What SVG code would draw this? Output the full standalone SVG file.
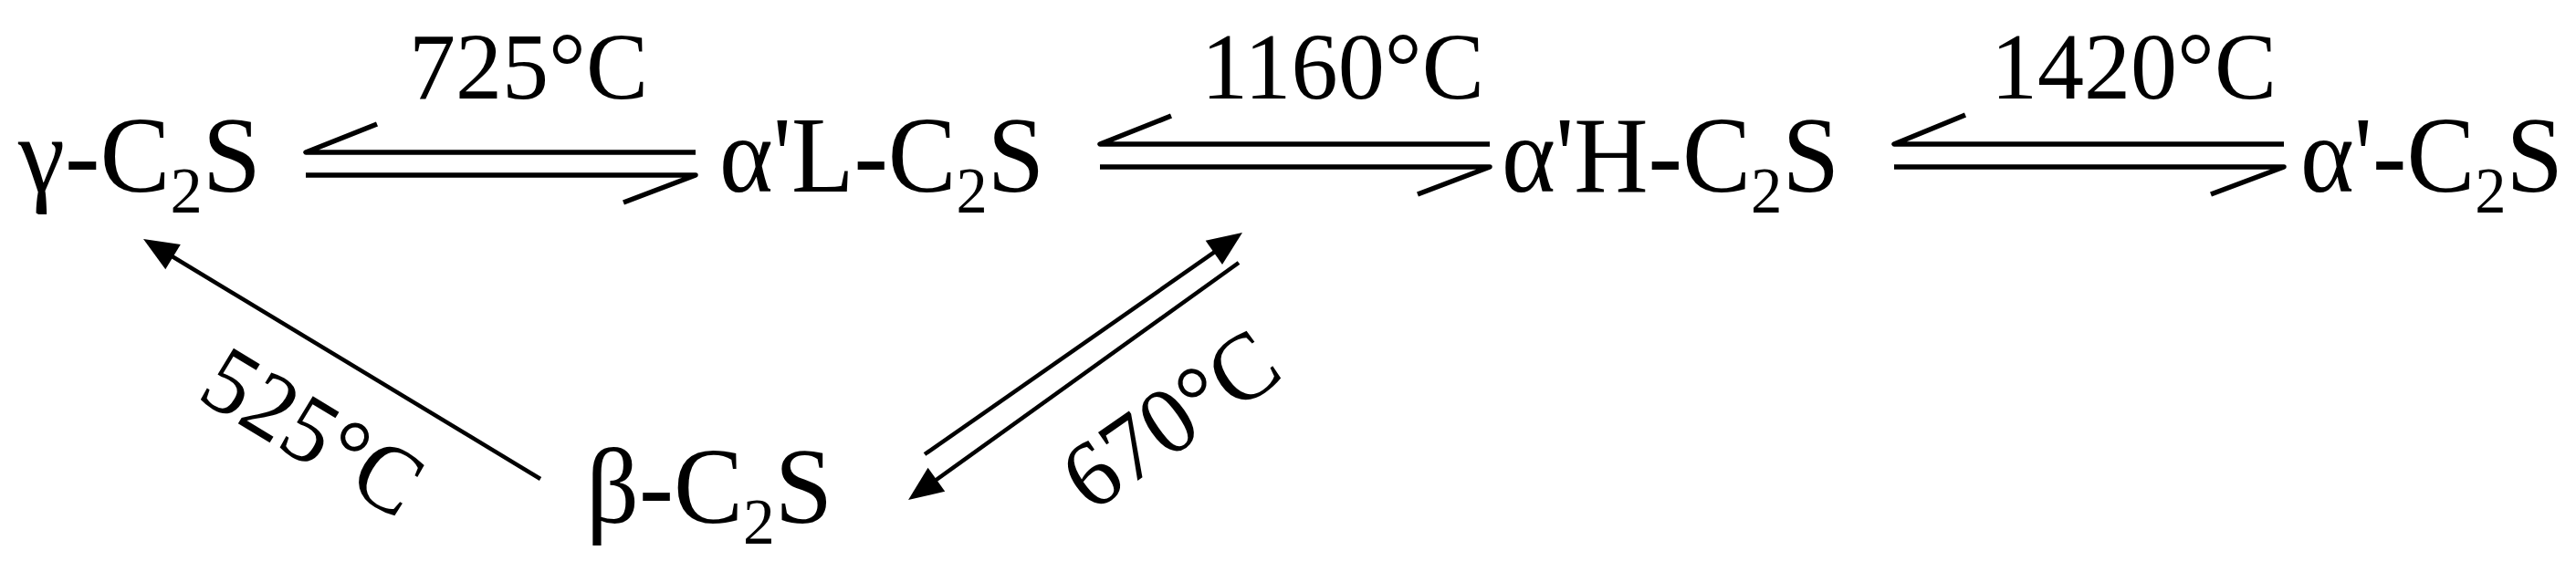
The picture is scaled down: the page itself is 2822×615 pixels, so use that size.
<svg xmlns="http://www.w3.org/2000/svg" width="2822" height="615" viewBox="0 0 2822 615">
<style>
.node{font-family:"Liberation Serif","Times New Roman",serif;font-size:118px;fill:#000}
.lbl{font-family:"Liberation Serif","Times New Roman",serif;font-size:104px;fill:#000}
.ln{fill:none;stroke:#000;stroke-width:5.5;stroke-linejoin:round}
.dg{fill:none;stroke:#000;stroke-width:4.5}
</style>
<defs>
<marker id="ah" markerUnits="userSpaceOnUse" markerWidth="46" markerHeight="42" viewBox="-42 -21 46 42" refX="-30" refY="0" orient="auto">
<path d="M0,0 L-38,-16 L-38,16 Z" fill="#000"/>
</marker>
</defs>
<rect width="2822" height="615" fill="#fff"/>
<g id="node-gamma"><text class="node" x="20" y="210" textLength="266" lengthAdjust="spacingAndGlyphs">γ-C<tspan dy="23" font-size="72">2</tspan><tspan dy="-23">S</tspan></text></g>
<g id="node-alphaL"><text class="node" x="788" y="210" textLength="356" lengthAdjust="spacingAndGlyphs">α'L-C<tspan dy="23" font-size="72">2</tspan><tspan dy="-23">S</tspan></text></g>
<g id="node-alphaH"><text class="node" x="1645" y="210" textLength="370" lengthAdjust="spacingAndGlyphs">α'H-C<tspan dy="23" font-size="72">2</tspan><tspan dy="-23">S</tspan></text></g>
<g id="node-alpha"><text class="node" x="2520" y="210" textLength="288" lengthAdjust="spacingAndGlyphs">α'-C<tspan dy="23" font-size="72">2</tspan><tspan dy="-23">S</tspan></text></g>
<g id="node-beta"><text class="node" x="642" y="573" textLength="270" lengthAdjust="spacingAndGlyphs">β-C<tspan dy="23" font-size="72">2</tspan><tspan dy="-23">S</tspan></text></g>
<g id="connectors">
<path class="ln" d="M413,136 L335,167 L762,167"/>
<path class="ln" d="M335,192 L762,192 L683,222"/>
<path class="ln" d="M1283,127 L1205,158 L1632,158"/>
<path class="ln" d="M1205,183 L1632,183 L1553,213"/>
<path class="ln" d="M2153,126 L2075,158 L2502,158"/>
<path class="ln" d="M2075,183 L2502,183 L2422,213"/>
<line class="dg" x1="592" y1="525" x2="182.7" y2="277.5" marker-end="url(#ah)"/>
<line class="dg" x1="1013" y1="498" x2="1336.4" y2="272.2" marker-end="url(#ah)"/>
<line class="dg" x1="1357" y1="288" x2="1019.4" y2="530.5" marker-end="url(#ah)"/>
<text class="lbl" x="448" y="108" textLength="262" lengthAdjust="spacingAndGlyphs">725°C</text>
<text class="lbl" x="1316" y="108" textLength="310" lengthAdjust="spacingAndGlyphs">1160°C</text>
<text class="lbl" x="2181" y="108" textLength="313" lengthAdjust="spacingAndGlyphs">1420°C</text>
<text class="lbl" text-anchor="middle" transform="translate(325,503) rotate(31.2)" textLength="260" lengthAdjust="spacingAndGlyphs">525°C</text>
<text class="lbl" text-anchor="middle" transform="translate(1302,488) rotate(-35)" textLength="262" lengthAdjust="spacingAndGlyphs">670°C</text>
</g>
</svg>
